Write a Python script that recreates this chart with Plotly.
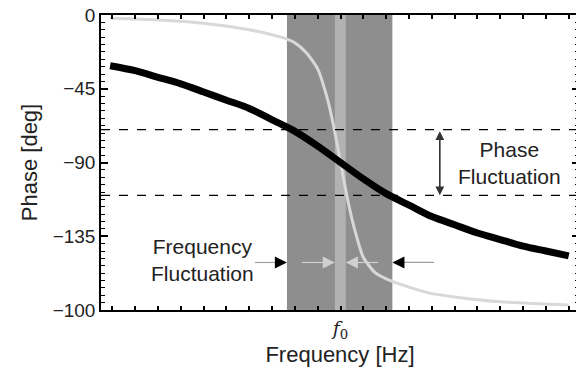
import plotly.graph_objects as go

# ---- data (x in tick-index units, f0 at index 10) ----
black_x = [-0.1, 1, 2, 3, 4, 5, 6, 7, 8, 9, 10, 11, 12, 13, 14, 15, 16, 17, 18, 19, 20]
black_y = [-31, -34, -38, -42, -47, -52, -57, -64, -71, -80, -90, -100, -109, -116, -123, -128, -133, -137, -141, -144, -147]

light_x = [-0.1, 2, 4, 6, 7, 7.5, 8, 8.5, 9, 9.4, 9.7, 10, 10.3, 10.6, 11, 11.5, 12, 13, 14, 15, 17, 20]
light_y = [-2, -3, -5, -9, -12, -14, -17, -23, -33, -50, -68, -90, -112, -130, -148, -157, -161, -166, -170, -172, -175, -177]

band_outer = [7.65, 12.27]
band_inner = [9.75, 10.23]
phase_levels = [-70, -110]

y_tickvals = [0, -45, -90, -135, -180]
y_ticktext = ["0", "\u221245", "\u221290", "\u2212135", "\u2212100"]
x_tickvals = list(range(21))
x_ticktext = ["" if i != 10 else "<i>f</i><sub>0</sub>" for i in x_tickvals]

FONT = "Liberation Sans, Arial, Helvetica, sans-serif"

fig = go.Figure()

fig.add_trace(go.Scatter(x=light_x, y=light_y, mode="lines",
                         line=dict(color="#d8d8d8", width=3, shape="spline", smoothing=0.6),
                         showlegend=False, hoverinfo="skip"))
fig.add_trace(go.Scatter(x=black_x, y=black_y, mode="lines",
                         line=dict(color="black", width=7, shape="spline", smoothing=0.8),
                         showlegend=False, hoverinfo="skip"))

shapes = [
    dict(type="rect", xref="x", yref="paper", x0=band_outer[0], x1=band_outer[1], y0=0, y1=1,
         fillcolor="#8e8e8e", line=dict(width=0), layer="below"),
    dict(type="rect", xref="x", yref="paper", x0=band_inner[0], x1=band_inner[1], y0=0, y1=1,
         fillcolor="#b2b2b2", line=dict(width=0), layer="below"),
]
for lv in phase_levels:
    shapes.append(dict(type="line", xref="paper", yref="y", x0=0, x1=1, y0=lv, y1=lv,
                       line=dict(color="black", width=1.3, dash="dash")))

# frequency-fluctuation arrows: shafts
arrow_y = -151
shapes += [
    dict(type="line", xref="x", yref="y", x0=6.25, x1=band_outer[0] - 0.4, y0=arrow_y, y1=arrow_y,
         line=dict(color="#a0a0a0", width=1.2)),
    dict(type="line", xref="x", yref="y", x0=14.1, x1=band_outer[1] + 0.4, y0=arrow_y, y1=arrow_y,
         line=dict(color="#a0a0a0", width=1.2)),
    dict(type="line", xref="x", yref="y", x0=8.3, x1=band_inner[0] - 0.4, y0=arrow_y, y1=arrow_y,
         line=dict(color="#d0d0d0", width=1.2)),
    dict(type="line", xref="x", yref="y", x0=11.65, x1=band_inner[1] + 0.4, y0=arrow_y, y1=arrow_y,
         line=dict(color="#d0d0d0", width=1.2)),
]
fig.update_layout(shapes=shapes)

ann = []
def head(x, color, direction):
    return dict(x=x, y=arrow_y, xref="x", yref="y", ax=-12 * direction, ay=0,
                axref="pixel", ayref="pixel", text="", showarrow=True,
                arrowhead=2, arrowsize=1.1, arrowwidth=2.2, arrowcolor=color, standoff=0)

ann.append(head(band_outer[0], "black", 1))
ann.append(head(band_outer[1], "black", -1))
ann.append(head(band_inner[0], "#d0d0d0", 1))
ann.append(head(band_inner[1], "#d0d0d0", -1))

ann.append(dict(x=14.35, y=phase_levels[1], ax=14.35, ay=phase_levels[0], xref="x", yref="y",
                axref="x", ayref="y", text="", showarrow=True, arrowside="end+start",
                arrowhead=2, arrowsize=1.1, arrowwidth=1.6, arrowcolor="#333333", standoff=0, startstandoff=0))

ann.append(dict(x=17.4, y=-90.6, xref="x", yref="y", text="Phase<br>Fluctuation", showarrow=False,
                font=dict(family=FONT, size=21, color="#222222"), align="center"))
ann.append(dict(x=3.95, y=-149.5, xref="x", yref="y", text="Frequency<br>Fluctuation", showarrow=False,
                font=dict(family=FONT, size=21, color="#222222"), align="center"))
fig.update_layout(annotations=ann)

# page body has an 8px margin: shrink figure so plot area lands where the reference has it
fig.update_layout(
    width=576, height=362,
    margin=dict(l=93, r=5, t=7, b=60),
    plot_bgcolor="white", paper_bgcolor="white",
    font=dict(family=FONT, size=19, color="#222222"),
    xaxis=dict(range=[-0.5, 20.45], tickvals=x_tickvals, ticktext=x_ticktext,
               ticks="inside", ticklen=4, tickwidth=1.5, tickcolor="black",
               showline=True, linecolor="black", linewidth=1.5, mirror="allticks",
               showgrid=False, zeroline=False, automargin=False,
               tickfont=dict(family="DejaVu Serif, Liberation Serif, serif", size=19),
               title=dict(text="Frequency [Hz]", font=dict(family=FONT, size=22), standoff=4)),
    yaxis=dict(range=[-180, 0], tickvals=y_tickvals, ticktext=y_ticktext,
               ticks="inside", ticklen=7, tickwidth=1.5, tickcolor="black",
               tickfont=dict(family=FONT, size=19), ticklabeloverflow="allow",
               minor=dict(dtick=4.5, tick0=0, ticks="inside", ticklen=4, tickwidth=1.2, tickcolor="black"),
               showline=True, linecolor="black", linewidth=1.5, mirror="allticks",
               showgrid=False, zeroline=False, automargin=False,
               title=dict(text="Phase [deg]", font=dict(family=FONT, size=22), standoff=9)),
)

fig.write_html("out.html")
